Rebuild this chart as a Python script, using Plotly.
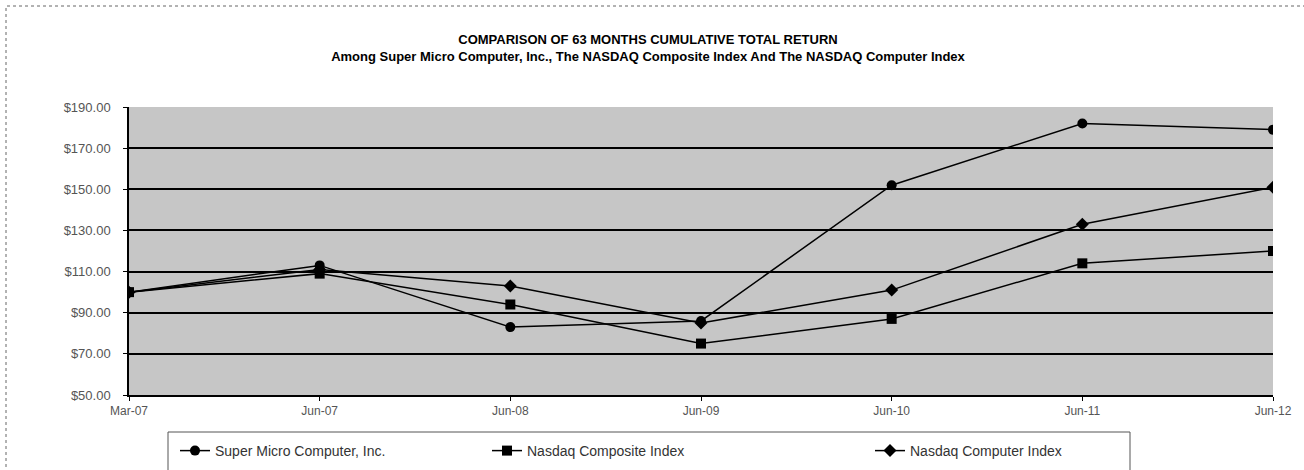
import plotly.graph_objects as go

categories = ["Mar-07", "Jun-07", "Jun-08", "Jun-09", "Jun-10", "Jun-11", "Jun-12"]
smci = [100, 113, 83, 86, 152, 182, 179]
nasdaq_composite = [100, 109, 94, 75, 87, 114, 120]
nasdaq_computer = [100, 111, 103, 85, 101, 133, 151]
series_names = ["Super Micro Computer, Inc.", "Nasdaq Composite Index", "Nasdaq Computer Index"]
y_ticks = [50, 70, 90, 110, 130, 150, 170, 190]
y_tick_text = ["$50.00", "$70.00", "$90.00", "$110.00", "$130.00", "$150.00", "$170.00", "$190.00"]
grid_ticks = [70, 90, 110, 130, 150, 170]

W, H = 1304, 470
L, R, T, B = 129, 31, 107, 75
pw, ph = W - L - R, H - T - B

def px(x):
    return (x - L) / pw

def py(y):
    return (H - B - y) / ph

def cx(x):
    return x / W

def cy(y):
    return 1 - y / H

FONT = "Liberation Sans, Arial, sans-serif"

fig = go.Figure()

specs = [
    (smci, "circle", 10, "legend"),
    (nasdaq_composite, "square", 10, "legend2"),
    (nasdaq_computer, "diamond", 10, "legend3"),
]
for (vals, sym, size, lg), name in zip(specs, series_names):
    fig.add_trace(go.Scatter(
        x=categories, y=vals, name=name, mode="lines+markers",
        line=dict(color="black", width=1.5),
        marker=dict(symbol=sym, size=size, color="black"),
        legend=lg,
    ))

# invisible trace to activate overlay axis carrying the gridlines
fig.add_trace(go.Scatter(x=categories, y=smci, yaxis="y2", mode="lines",
                         line=dict(width=0), showlegend=False, hoverinfo="skip"))

legend_common = dict(orientation="h", yref="container", xref="container",
                     yanchor="middle", y=cy(451), xanchor="left",
                     bgcolor="rgba(0,0,0,0)", borderwidth=0,
                     font=dict(family=FONT, size=14, color="#333333"))

fig.update_layout(
    width=W, height=H,
    margin=dict(l=L, r=R, t=T, b=B, autoexpand=False),
    paper_bgcolor="white",
    plot_bgcolor="#c6c6c6",
    title=dict(
        text="<b>COMPARISON OF 63 MONTHS CUMULATIVE TOTAL RETURN</b><br><b>Among Super Micro Computer, Inc., The NASDAQ Composite Index And The NASDAQ Computer Index</b>",
        x=648 / W, xanchor="center", y=cy(44), yanchor="top",
        font=dict(family=FONT, size=13, color="black"),
    ),
    xaxis=dict(
        type="category", range=[0, 6], showgrid=False,
        showline=True, linecolor="black", linewidth=1.5,
        ticks="outside", ticklen=4, tickcolor="black",
        tickfont=dict(family=FONT, size=12, color="#555555"),
    ),
    yaxis=dict(
        range=[50, 190], tickvals=y_ticks, ticktext=y_tick_text,
        showgrid=False, zeroline=False,
        showline=True, linecolor="black", linewidth=1.5,
        ticks="outside", ticklen=4, tickcolor="black",
        ticklabelstandoff=10,
        tickfont=dict(family=FONT, size=13, color="#555555"),
    ),
    yaxis2=dict(
        overlaying="y", range=[50, 190], tickvals=grid_ticks,
        showgrid=True, gridcolor="black", gridwidth=1.5,
        showticklabels=False, zeroline=False, showline=False,
    ),
    legend=dict(x=cx(175), **legend_common),
    legend2=dict(x=cx(487), **legend_common),
    legend3=dict(x=cx(870), **legend_common),
    shapes=[
        dict(type="rect", xref="paper", yref="paper",
             x0=px(6), x1=px(1330), y0=py(500), y1=py(6),
             line=dict(color="#666666", width=1, dash="dot"), layer="below"),
        dict(type="rect", xref="paper", yref="paper",
             x0=px(168), x1=px(1130), y0=py(500), y1=py(432),
             line=dict(color="#555555", width=1), layer="below"),
    ],
    showlegend=True,
)

fig.write_html("out.html", config={"displayModeBar": False},
               post_script="document.body.style.margin='0';")
